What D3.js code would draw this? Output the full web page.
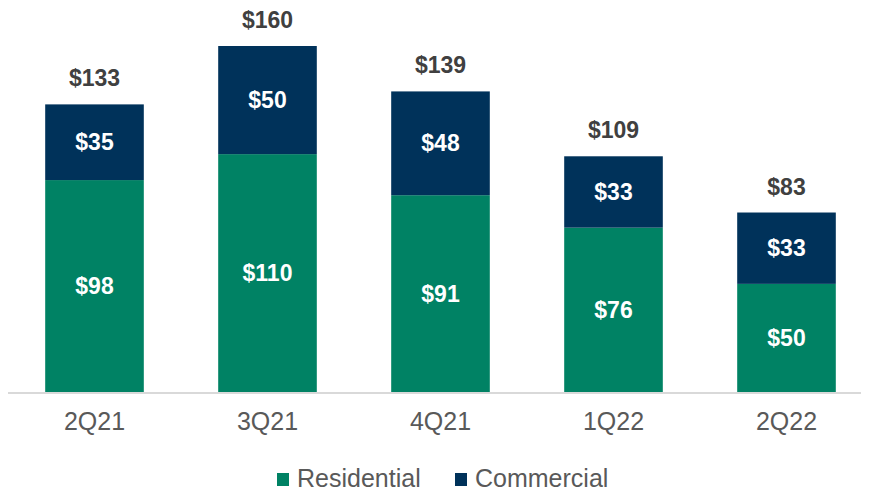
<!DOCTYPE html>
<html>
<head>
<meta charset="utf-8">
<script src="https://cdn.jsdelivr.net/npm/d3@7"></script>
<style>
body { margin: 0; background: #fff; }
text { font-family: "Liberation Sans", Arial, sans-serif; }
</style>
</head>
<body>
<svg width="869" height="491"></svg>
<script>
var quarters = ["2Q21", "3Q21", "4Q21", "1Q22", "2Q22"];
var residential = [98, 110, 91, 76, 50];
var commercial = [35, 50, 48, 33, 33];
var totals = [133, 160, 139, 109, 83];
var seriesNames = ["Residential", "Commercial"];
var colors = ["#008264", "#00325a"];

var svg = d3.select("svg");

var x = d3.scaleBand()
	.domain(quarters)
	.range([8, 873])
	.paddingInner(0.43)
	.paddingOuter(0.215);

var y = d3.scaleLinear()
	.domain([0, 160])
	.range([392, 46]);

var rows = quarters.map((q, i) => ({ q: q, Residential: residential[i], Commercial: commercial[i], total: totals[i] }));
var stack = d3.stack().keys(seriesNames)(rows);

var layer = svg.selectAll(".layer")
	.data(stack)
	.enter().append("g")
	.attr("fill", (d, i) => colors[i]);

layer.selectAll("rect")
	.data(d => d)
	.enter().append("rect")
	.attr("x", d => x(d.data.q))
	.attr("width", x.bandwidth())
	.attr("y", d => y(d[1]))
	.attr("height", d => y(d[0]) - y(d[1]));

layer.selectAll("text")
	.data(d => d)
	.enter().append("text")
	.attr("x", d => x(d.data.q) + x.bandwidth() / 2)
	.attr("y", d => (y(d[0]) + y(d[1])) / 2)
	.attr("dy", "0.35em")
	.attr("text-anchor", "middle")
	.attr("fill", "#fff")
	.attr("font-weight", "bold")
	.attr("font-size", 23)
	.text(d => "$" + (d[1] - d[0]));

// totals above bars
svg.selectAll(".total")
	.data(rows)
	.enter().append("text")
	.attr("class", "total")
	.attr("x", d => x(d.q) + x.bandwidth() / 2)
	.attr("y", d => y(d.total) - 26)
	.attr("dy", "0.35em")
	.attr("text-anchor", "middle")
	.attr("fill", "#404040")
	.attr("font-weight", "bold")
	.attr("font-size", 23)
	.text(d => "$" + d.total);

// baseline + category labels
var axis = svg.append("g")
	.attr("transform", "translate(0," + y(0) + ")")
	.call(d3.axisBottom(x).tickSize(0).tickPadding(20));
axis.select(".domain").attr("stroke", "#d9d9d9").attr("stroke-width", 2).attr("d", "M8,1H861");
axis.selectAll("text")
	.attr("font-size", 25)
	.attr("fill", "#595959")
	.style("font-family", "'Liberation Sans', Arial, sans-serif");

// legend
var legendX = [277, 455];
var legend = svg.selectAll(".legend")
	.data(seriesNames)
	.enter().append("g")
	.attr("transform", (d, i) => "translate(" + legendX[i] + ",479)");
legend.append("rect")
	.attr("y", -6)
	.attr("width", 12)
	.attr("height", 13)
	.attr("fill", (d, i) => colors[i]);
legend.append("text")
	.attr("x", 20)
	.attr("dy", "0.33em")
	.attr("font-size", 25)
	.attr("fill", "#595959")
	.text(d => d);
</script>
</body>
</html>
